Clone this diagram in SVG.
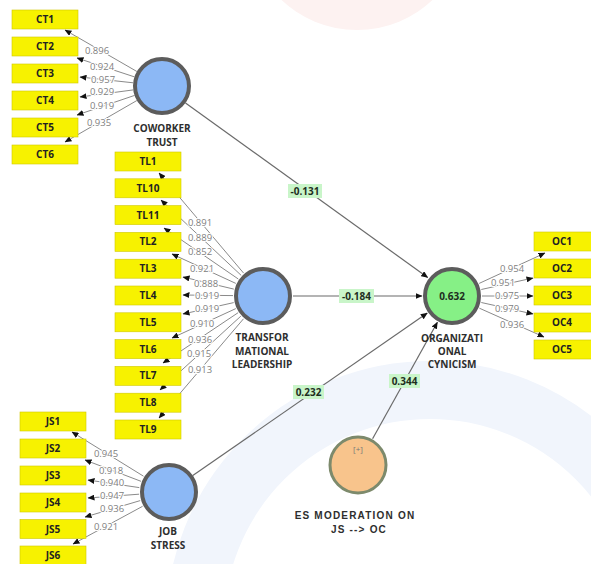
<svg xmlns="http://www.w3.org/2000/svg" width="591" height="564" viewBox="0 0 591 564">
<style>
.box{fill:#f7f200;stroke:#cfc800;stroke-width:0.6}
.bt{font-family:"Open Sans","Noto Sans",sans-serif;font-weight:bold;font-size:10px;fill:#222;text-anchor:middle}
.lv{fill:#8cb8f5;stroke:#5c5c5c;stroke-width:4}
.ld{stroke:#8a8a8a;stroke-width:1;fill:none;marker-end:url(#ah)}
.lt{font-family:"Open Sans","Noto Sans",sans-serif;font-size:9.5px;fill:#808080;text-anchor:middle;stroke:#fff;stroke-width:2.2;paint-order:stroke}
.pl{stroke:#6a6a6a;stroke-width:1.2;fill:none;marker-end:url(#ah)}
.pb{fill:#c9f5c9}
.pt{font-family:"Open Sans","Noto Sans",sans-serif;font-weight:bold;font-size:10px;fill:#1e2e1e;text-anchor:middle}
.cl{font-family:"Open Sans","Noto Sans",sans-serif;font-weight:bold;font-size:10px;fill:#2e2e2e;text-anchor:middle}
.es{font-family:"Liberation Sans",Arial,sans-serif;font-weight:bold;font-size:10px;fill:#2e2e2e;text-anchor:middle;letter-spacing:1.2px}
</style>
<defs>
<marker id="ah" markerUnits="userSpaceOnUse" markerWidth="7" markerHeight="6" refX="6.5" refY="3" orient="auto">
<path d="M0,0 L7,3 L0,6 z" fill="#111"/>
</marker>
</defs>
<rect width="591" height="564" fill="#fff"/>
<g id="watermark">
<circle cx="357" cy="-80" r="110" fill="#fdf2f1"/>
<circle cx="430" cy="625" r="235" fill="none" stroke="#f1f5fc" stroke-width="58"/>
</g>
<g id="connectors">
<line class="pl" x1="185.5" y1="103" x2="427.7" y2="277.5"/>
<line class="pl" x1="293" y1="296" x2="422" y2="296"/>
<line class="pl" x1="192.8" y1="475.5" x2="427.3" y2="313.1"/>
<line class="pl" x1="372.6" y1="438.8" x2="437.4" y2="322.2"/>
<line class="ld" x1="136.9" y1="71.5" x2="65" y2="30"/>
<line class="ld" x1="134.5" y1="76.9" x2="77" y2="58"/>
<line class="ld" x1="133.2" y1="82.8" x2="80" y2="77"/>
<line class="ld" x1="133.3" y1="89.9" x2="80" y2="97"/>
<line class="ld" x1="134.6" y1="95.4" x2="77" y2="115"/>
<line class="ld" x1="136.9" y1="100.5" x2="65" y2="142"/>
<line class="ld" x1="243.6" y1="273.1" x2="159" y2="173"/>
<line class="ld" x1="241.2" y1="275.4" x2="161" y2="200"/>
<line class="ld" x1="238.3" y1="279" x2="164" y2="228"/>
<line class="ld" x1="235.8" y1="283.4" x2="172" y2="254"/>
<line class="ld" x1="233.8" y1="289.1" x2="183" y2="277"/>
<line class="ld" x1="233" y1="295.6" x2="183" y2="295"/>
<line class="ld" x1="233.7" y1="302.6" x2="183" y2="314"/>
<line class="ld" x1="235.8" y1="308.6" x2="172" y2="338"/>
<line class="ld" x1="238.1" y1="312.7" x2="163" y2="363"/>
<line class="ld" x1="240.8" y1="316.2" x2="160" y2="390"/>
<line class="ld" x1="243.5" y1="318.8" x2="159" y2="418"/>
<line class="ld" x1="143.5" y1="476.2" x2="72" y2="432"/>
<line class="ld" x1="141" y1="481.3" x2="85" y2="460"/>
<line class="ld" x1="139.3" y1="487.6" x2="88" y2="480"/>
<line class="ld" x1="139.1" y1="494.2" x2="88" y2="498"/>
<line class="ld" x1="140.2" y1="500.6" x2="85" y2="517"/>
<line class="ld" x1="142.6" y1="506.3" x2="73" y2="544"/>
<line class="ld" x1="479.2" y1="283.4" x2="545" y2="253"/>
<line class="ld" x1="481.3" y1="289.5" x2="533" y2="278"/>
<line class="ld" x1="482" y1="296" x2="533" y2="296"/>
<line class="ld" x1="481.3" y1="302.5" x2="533" y2="314"/>
<line class="ld" x1="479.4" y1="308.2" x2="544" y2="337"/>
<text class="lt" x="97" y="53.5">0.896</text>
<text class="lt" x="102" y="69.5">0.924</text>
<text class="lt" x="103" y="83">0.957</text>
<text class="lt" x="102" y="95">0.929</text>
<text class="lt" x="102" y="108.5">0.919</text>
<text class="lt" x="99" y="125.5">0.935</text>
<text class="lt" x="200" y="225.5">0.891</text>
<text class="lt" x="200" y="240.5">0.889</text>
<text class="lt" x="200" y="254.5">0.852</text>
<text class="lt" x="202" y="271.5">0.921</text>
<text class="lt" x="206" y="286.5">0.888</text>
<text class="lt" x="207" y="299">0.919</text>
<text class="lt" x="207" y="311.5">0.919</text>
<text class="lt" x="202" y="326.5">0.910</text>
<text class="lt" x="200" y="342.5">0.936</text>
<text class="lt" x="199" y="356.5">0.915</text>
<text class="lt" x="200" y="372.5">0.913</text>
<text class="lt" x="106" y="456.5">0.945</text>
<text class="lt" x="111" y="473.5">0.918</text>
<text class="lt" x="112" y="485.5">0.940</text>
<text class="lt" x="112" y="499">0.947</text>
<text class="lt" x="112" y="511.5">0.936</text>
<text class="lt" x="106" y="529.5">0.921</text>
<text class="lt" x="512" y="271.5">0.954</text>
<text class="lt" x="503" y="285.5">0.951</text>
<text class="lt" x="507" y="299">0.975</text>
<text class="lt" x="507" y="311.5">0.979</text>
<text class="lt" x="512" y="327.5">0.936</text>
<rect class="pb" x="288" y="184" width="34" height="14"/>
<text class="pt" x="305" y="195">-0.131</text>
<rect class="pb" x="339" y="289" width="35" height="14"/>
<text class="pt" x="356.5" y="300">-0.184</text>
<rect class="pb" x="293" y="385" width="31" height="14"/>
<text class="pt" x="308.5" y="396">0.232</text>
<rect class="pb" x="389" y="374" width="31" height="14"/>
<text class="pt" x="404.5" y="385">0.344</text>
</g>
<g id="CT">
<circle class="lv" cx="162" cy="86" r="27"/>
<text class="cl" x="162" y="132">COWORKER</text>
<text class="cl" x="162" y="146">TRUST</text>
</g>
<g id="TL">
<circle class="lv" cx="263" cy="296" r="27"/>
<text class="cl" x="262" y="341">TRANSFOR</text>
<text class="cl" x="262" y="355">MATIONAL</text>
<text class="cl" x="262" y="368">LEADERSHIP</text>
</g>
<g id="OC">
<circle cx="452" cy="296" r="27" fill="#86f086" stroke="#5c5c5c" stroke-width="4"/>
<text class="pt" x="452" y="299.5">0.632</text>
<text class="cl" x="452" y="342">ORGANIZATI</text>
<text class="cl" x="452" y="355">ONAL</text>
<text class="cl" x="452" y="368">CYNICISM</text>
</g>
<g id="JS">
<circle class="lv" cx="169" cy="492" r="27"/>
<text class="cl" x="168" y="535">JOB</text>
<text class="cl" x="168" y="549">STRESS</text>
</g>
<g id="ES">
<circle cx="358" cy="465" r="28" fill="#f8c48c" stroke="#7d8a6c" stroke-width="3"/>
<text x="358" y="452" font-family="Open Sans, sans-serif" font-size="8" fill="#777" text-anchor="middle">[+]</text>
<text class="es" x="355" y="519">ES MODERATION ON</text>
<text class="es" x="359" y="533">JS --&gt; OC</text>
</g>
<g id="CT-items">
<rect class="box" x="12" y="10" width="66" height="19"/><text class="bt" x="45" y="23">CT1</text>
<rect class="box" x="12" y="37" width="66" height="19"/><text class="bt" x="45" y="50">CT2</text>
<rect class="box" x="12" y="64" width="66" height="19"/><text class="bt" x="45" y="77">CT3</text>
<rect class="box" x="12" y="91" width="66" height="19"/><text class="bt" x="45" y="104">CT4</text>
<rect class="box" x="12" y="118" width="66" height="19"/><text class="bt" x="45" y="131">CT5</text>
<rect class="box" x="12" y="145" width="66" height="19"/><text class="bt" x="45" y="158">CT6</text>
</g>
<g id="TL-items">
<rect class="box" x="115" y="152" width="66" height="19"/><text class="bt" x="148" y="165">TL1</text>
<rect class="box" x="115" y="178.8" width="66" height="19"/><text class="bt" x="148" y="191.8">TL10</text>
<rect class="box" x="115" y="205.6" width="66" height="19"/><text class="bt" x="148" y="218.6">TL11</text>
<rect class="box" x="115" y="232.4" width="66" height="19"/><text class="bt" x="148" y="245.4">TL2</text>
<rect class="box" x="115" y="259.2" width="66" height="19"/><text class="bt" x="148" y="272.2">TL3</text>
<rect class="box" x="115" y="286" width="66" height="19"/><text class="bt" x="148" y="299">TL4</text>
<rect class="box" x="115" y="312.8" width="66" height="19"/><text class="bt" x="148" y="325.8">TL5</text>
<rect class="box" x="115" y="339.6" width="66" height="19"/><text class="bt" x="148" y="352.6">TL6</text>
<rect class="box" x="115" y="366.4" width="66" height="19"/><text class="bt" x="148" y="379.4">TL7</text>
<rect class="box" x="115" y="393.2" width="66" height="19"/><text class="bt" x="148" y="406.2">TL8</text>
<rect class="box" x="115" y="420" width="66" height="19"/><text class="bt" x="148" y="433">TL9</text>
</g>
<g id="JS-items">
<rect class="box" x="20" y="412" width="66" height="19"/><text class="bt" x="53" y="425">JS1</text>
<rect class="box" x="20" y="439" width="66" height="19"/><text class="bt" x="53" y="452">JS2</text>
<rect class="box" x="20" y="466" width="66" height="19"/><text class="bt" x="53" y="479">JS3</text>
<rect class="box" x="20" y="493" width="66" height="19"/><text class="bt" x="53" y="506">JS4</text>
<rect class="box" x="20" y="519.5" width="66" height="19"/><text class="bt" x="53" y="532.5">JS5</text>
<rect class="box" x="20" y="546" width="66" height="19"/><text class="bt" x="53" y="559">JS6</text>
</g>
<g id="OC-items">
<rect class="box" x="534" y="232" width="58" height="19"/><text class="bt" x="562" y="245">OC1</text>
<rect class="box" x="534" y="259" width="58" height="19"/><text class="bt" x="562" y="272">OC2</text>
<rect class="box" x="534" y="286" width="58" height="19"/><text class="bt" x="562" y="299">OC3</text>
<rect class="box" x="534" y="313" width="58" height="19"/><text class="bt" x="562" y="326">OC4</text>
<rect class="box" x="534" y="340" width="58" height="19"/><text class="bt" x="562" y="353">OC5</text>
</g>
</svg>
